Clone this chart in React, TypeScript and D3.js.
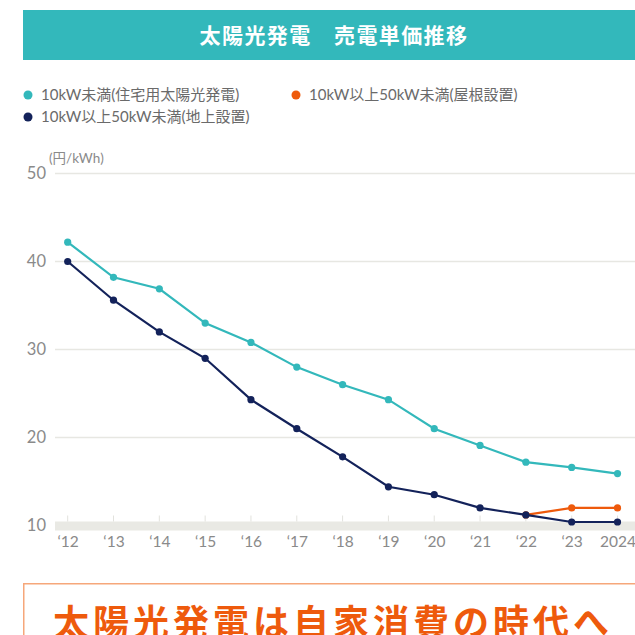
import React, { useEffect, useRef } from "react";
import * as d3 from "d3";

const years = [2012, 2013, 2014, 2015, 2016, 2017, 2018, 2019, 2020, 2021, 2022, 2023, 2024];
const yearLabels = ["‘12", "‘13", "‘14", "‘15", "‘16", "‘17", "‘18", "‘19", "‘20", "‘21", "‘22", "‘23", "2024"];
const residential = [42.2, 38.2, 36.9, 33.0, 30.8, 28.0, 26.0, 24.3, 21.0, 19.1, 17.2, 16.6, 15.9];
const ground = [40.0, 35.6, 32.0, 29.0, 24.3, 21.0, 17.8, 14.4, 13.5, 12.0, 11.2, 10.4, 10.4];
const roofYears = [2022, 2023, 2024];
const roof = [11.2, 12.0, 12.0];
const yTicks = [10, 20, 30, 40, 50];

const seriesNames = [
  "10kW未満(住宅用太陽光発電)",
  "10kW以上50kW未満(屋根設置)",
  "10kW以上50kW未満(地上設置)",
];

const TEAL = "#33b8bb";
const NAVY = "#13225a";
const ORANGE = "#ee5a0c";
const FONT = "Lato, 'Noto Sans CJK JP', sans-serif";

export default function App() {
  const ref = useRef<SVGGElement>(null);

  useEffect(() => {
    const g = d3.select(ref.current);
    g.selectAll("*").remove();

    const x = d3.scaleLinear().domain([2012, 2024]).range([67.7, 617.5]);
    const y = d3.scaleLinear().domain([10, 50]).range([525.5, 173.5]);

    // grid
    g.append("g")
      .selectAll("line")
      .data(yTicks.filter((t) => t > 10))
      .join("line")
      .attr("x1", 55)
      .attr("x2", 640)
      .attr("y1", (d) => y(d))
      .attr("y2", (d) => y(d))
      .attr("stroke", "#e7e7e2")
      .attr("stroke-width", 1.5);

    // base band
    g.append("rect")
      .attr("x", 55)
      .attr("y", y(10) - 4)
      .attr("width", 590)
      .attr("height", 9)
      .attr("fill", "#e9e9e4");

    g.append("g")
      .selectAll("line")
      .data(years)
      .join("line")
      .attr("x1", (d) => x(d))
      .attr("x2", (d) => x(d))
      .attr("y1", y(10) - 10)
      .attr("y2", y(10) - 4)
      .attr("stroke", "#e2e2dd")
      .attr("stroke-width", 1);

    // y axis
    const yAxis = g
      .append("g")
      .attr("transform", "translate(46,0)")
      .call(d3.axisLeft(y).tickValues(yTicks).tickSize(0).tickPadding(0));
    yAxis.select(".domain").remove();
    yAxis
      .selectAll("text")
      .attr("fill", "#8a8a8a")
      .attr("font-size", 16.5)
      .attr("font-family", FONT);

    g.append("text")
      .attr("x", 49)
      .attr("y", 163)
      .attr("fill", "#8a8a8a")
      .attr("font-size", 13.5)
      .attr("font-family", FONT)
      .text("(円/kWh)");

    // x axis
    const xAxis = g
      .append("g")
      .attr("transform", `translate(0,${y(10) + 10})`)
      .call(
        d3
          .axisBottom(x)
          .tickValues(years)
          .tickSize(0)
          .tickPadding(0)
          .tickFormat((d, i) => yearLabels[i])
      );
    xAxis.select(".domain").remove();
    xAxis
      .selectAll("text")
      .attr("fill", "#8a8a8a")
      .attr("font-size", 15.5)
      .attr("font-family", FONT);

    const line = d3
      .line<[number, number]>()
      .x((d) => x(d[0]))
      .y((d) => y(d[1]));

    const drawSeries = (xs: number[], vals: number[], color: string) => {
      const pts = xs.map((yr, i) => [yr, vals[i]] as [number, number]);
      g.append("path")
        .datum(pts)
        .attr("fill", "none")
        .attr("stroke", color)
        .attr("stroke-width", 2.2)
        .attr("d", line);
      g.append("g")
        .selectAll("circle")
        .data(pts)
        .join("circle")
        .attr("cx", (d) => x(d[0]))
        .attr("cy", (d) => y(d[1]))
        .attr("r", 3.6)
        .attr("fill", color);
    };

    drawSeries(years, residential, TEAL);
    drawSeries(roofYears, roof, ORANGE);
    drawSeries(years, ground, NAVY);
  }, []);

  const legend = [
    { name: seriesNames[0], color: TEAL, cx: 28, cy: 95 },
    { name: seriesNames[1], color: ORANGE, cx: 296, cy: 95 },
    { name: seriesNames[2], color: NAVY, cx: 28, cy: 117 },
  ];

  return (
    <svg
      width={635}
      height={635}
      style={{ position: "absolute", left: 0, top: 0, background: "#fff" }}
    >
      <rect x={23} y={10} width={625} height={50} fill="#33b8bb" />
      <text
        x={334}
        y={43}
        textAnchor="middle"
        fill="#fff"
        fontSize={21}
        fontWeight="bold"
        letterSpacing={1.4}
        fontFamily={FONT}
      >
        太陽光発電　売電単価推移
      </text>
      {legend.map((l) => (
        <g key={l.name}>
          <circle cx={l.cx} cy={l.cy} r={4.5} fill={l.color} />
          <text
            x={l.cx + 13}
            y={l.cy + 5}
            fill="#6a6a6a"
            fontSize={15}
            fontFamily={FONT}
          >
            {l.name}
          </text>
        </g>
      ))}
      <g ref={ref} />
      <rect
        x={23.75}
        y={583.75}
        width={630}
        height={80}
        fill="none"
        stroke="#f6a77a"
        strokeWidth={1.5}
      />
      <text
        x={53}
        y={636}
        fill="#ee5a0c"
        fontSize={36}
        fontWeight="bold"
        letterSpacing={4}
        fontFamily={FONT}
      >
        太陽光発電は自家消費の時代へ
      </text>
    </svg>
  );
}
